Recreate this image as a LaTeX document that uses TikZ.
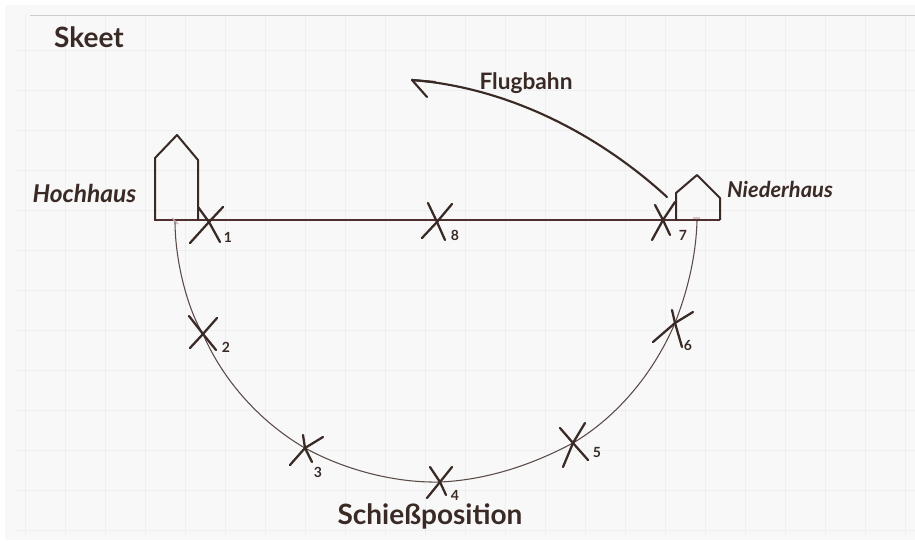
\documentclass[tikz,border=0pt]{standalone}
\usepackage{fontspec}
\setmainfont{Lato}
\definecolor{ink}{HTML}{3A2A26}
\definecolor{paper}{HTML}{F8F8F8}
\definecolor{gridc}{HTML}{EFEFEF}
\definecolor{rule}{HTML}{4F2F2E}
\definecolor{arcc}{HTML}{5A4A48}
\definecolor{tick}{HTML}{C8A8A8}
\tikzset{
 x=0.75pt,y=-0.75pt,
 wall/.style={draw=ink,line width=1.5pt,line join=round},
 ground/.style={draw=rule,line width=1.9pt},
 arcline/.style={draw=arcc,line width=0.8pt},
 xarm/.style={draw=ink,line width=1.7pt,line cap=round},
 flight/.style={draw=ink,line width=1.6pt,line cap=round,line join=round},
 num/.style={text=ink,font=\bfseries\fontsize{10.5}{11}\selectfont,inner sep=0pt},
 lab/.style={text=ink,inner sep=0pt},
}
\begin{document}
\begin{tikzpicture}
\useasboundingbox (0,0) rectangle (915,540);
\fill[white] (0,0) rectangle (915,540);
\fill[paper] (5,5) rectangle (915,540);
% squared paper
\foreach \g in {25,65,...,905} \draw[gridc,line width=0.4pt] (\g,15) -- (\g,535);
\foreach \g in {50,90,...,530} \draw[gridc,line width=0.4pt] (15,\g) -- (915,\g);
\draw[gray!40,line width=0.6pt] (30,15) -- (915,15);
% named points
\coordinate (p1) at (209,222);
\coordinate (p2) at (203,334);
\coordinate (p3) at (305,448);
\coordinate (p4) at (440,482);
\coordinate (p5) at (573,443);
\coordinate (p6) at (675,323);
\coordinate (p7) at (663,220);
\coordinate (p8) at (437,222);
\coordinate (hl) at (154,220);
\coordinate (hr) at (720,220);
\coordinate (as) at (175,221);
\coordinate (ae) at (697,221);
% ground and semicircle
\draw[ground] (hl) -- (hr);
\draw[arcline] (as) .. controls (175,262) and (188,310) .. (p2)
 .. controls (225,385) and (265,425) .. (p3)
 .. controls (345,470) and (395,483) .. (p4)
 .. controls (485,480) and (530,466) .. (p5)
 .. controls (620,415) and (655,370) .. (p6)
 .. controls (688,290) and (696,255) .. (ae);
\draw[tick,line width=1pt] (172,218) -- (178,224) (693,218) -- (700,218);
% houses
\draw[wall] (155,220) -- (155,158) -- (177,135) -- (198,160) -- (198,220);
\draw[wall] (676,220) -- (676,193) -- (697,175) -- (720,198) -- (720,220);
% crosses
\draw[xarm] (190,243) -- (p1) -- (223,207);
\draw[xarm] (198,207) -- (p1) -- (220,242);
\draw[xarm] (189,316) -- (p2) -- (216,350);
\draw[xarm] (217,318) -- (p2) -- (190,348);
\draw[xarm] (290,465) -- (p3) -- (323,437);
\draw[xarm] (303,435) -- (p3) -- (312,462);
\draw[xarm] (427,498) -- (p4) -- (452,467);
\draw[xarm] (430,467) -- (p4) -- (446,495);
\draw[xarm] (563,467) -- (p5) -- (585,423);
\draw[xarm] (560,428) -- (p5) -- (588,460);
\draw[xarm] (653,342) -- (p6) -- (693,312);
\draw[xarm] (672,310) -- (p6) -- (682,347);
\draw[xarm] (652,240) -- (p7) -- (675,202);
\draw[xarm] (655,205) -- (p7) -- (670,235);
\draw[xarm] (422,238) -- (p8) -- (452,204);
\draw[xarm] (428,203) -- (p8) -- (445,240);
% trajectory
\coordinate (t0) at (667,197);
\coordinate (t1) at (412,80);
\draw[flight] (t0) .. controls (605,140) and (515,88) .. (t1);
\draw[flight] (435,82) -- (t1) -- (427,97);
% labels
\node[lab,font=\bfseries\fontsize{21}{24}\selectfont] (skeet) at (89,37) {Skeet};
\node[lab,font=\bfseries\itshape\fontsize{18.4}{20}\selectfont] (hoch) at (84.5,193) {Hochhaus};
\node[lab,font=\bfseries\itshape\fontsize{16.4}{18}\selectfont] (nied) at (780,189) {Niederhaus};
\node[lab,font=\bfseries\fontsize{17}{19}\selectfont] (flug) at (526,83) {Flugbahn};
\node[lab,font=\bfseries\fontsize{21}{24}\selectfont] (schiess) at (430,516) {Schießposition};
\node[num] (n1) at (228,237) {1};
\node[num] (n2) at (226,347) {2};
\node[num] (n3) at (318,472) {3};
\node[num] (n4) at (455,495) {4};
\node[num] (n5) at (597,452) {5};
\node[num] (n6) at (688,345) {6};
\node[num] (n7) at (683,235) {7};
\node[num] (n8) at (455,235) {8};
\end{tikzpicture}
\end{document}
